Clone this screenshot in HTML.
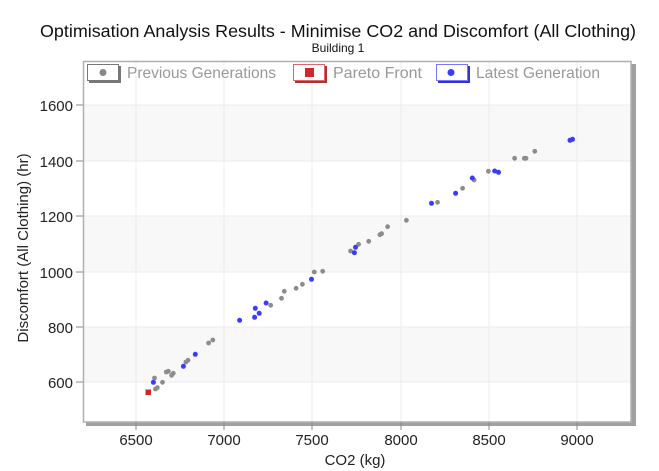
<!DOCTYPE html>
<html><head><meta charset="utf-8"><style>
html,body{margin:0;padding:0;background:#fff;}
svg{display:block;font-family:"Liberation Sans",Arial,sans-serif;}
</style></head><body>
<svg width="659" height="471" viewBox="0 0 659 471" xmlns="http://www.w3.org/2000/svg">
<rect width="659" height="471" fill="#fff"/>
<text x="338" y="37" font-size="17.5" text-anchor="middle" fill="#111" textLength="596" lengthAdjust="spacingAndGlyphs">Optimisation Analysis Results - Minimise CO2 and Discomfort (All Clothing)</text>
<text x="338" y="52" font-size="12" text-anchor="middle" fill="#111">Building 1</text>
<!-- shadow -->
<rect x="86" y="422" width="550" height="4" fill="#a0a0a0"/>
<rect x="631" y="64" width="5" height="362" fill="#a0a0a0"/>
<!-- plot bg -->
<rect x="83" y="61" width="548" height="361" fill="#fff"/>
<rect x="83" y="105" width="548" height="56" fill="#f8f8f8"/>
<rect x="83" y="216" width="548" height="56" fill="#f8f8f8"/>
<rect x="83" y="327" width="548" height="55" fill="#f8f8f8"/>
<g stroke="#ececec" stroke-width="1">
<line x1="83" y1="105" x2="631" y2="105"/><line x1="83" y1="161" x2="631" y2="161"/>
<line x1="83" y1="216" x2="631" y2="216"/><line x1="83" y1="272" x2="631" y2="272"/>
<line x1="83" y1="327" x2="631" y2="327"/><line x1="83" y1="382" x2="631" y2="382"/>
<line x1="136" y1="61" x2="136" y2="422"/><line x1="224" y1="61" x2="224" y2="422"/>
<line x1="312" y1="61" x2="312" y2="422"/><line x1="401" y1="61" x2="401" y2="422"/>
<line x1="489" y1="61" x2="489" y2="422"/><line x1="577" y1="61" x2="577" y2="422"/>
</g>
<rect x="83.5" y="61.5" width="547.5" height="360.5" fill="none" stroke="#b0b0b0" stroke-width="1.5"/>
<!-- ticks -->
<g stroke="#888" stroke-width="1">
<line x1="76" y1="105" x2="83" y2="105"/><line x1="76" y1="161" x2="83" y2="161"/>
<line x1="76" y1="216" x2="83" y2="216"/><line x1="76" y1="272" x2="83" y2="272"/>
<line x1="76" y1="327" x2="83" y2="327"/><line x1="76" y1="382" x2="83" y2="382"/>
<line x1="136" y1="422" x2="136" y2="430"/><line x1="224" y1="422" x2="224" y2="430"/>
<line x1="312" y1="422" x2="312" y2="430"/><line x1="401" y1="422" x2="401" y2="430"/>
<line x1="489" y1="422" x2="489" y2="430"/><line x1="577" y1="422" x2="577" y2="430"/>
</g>
<g font-size="15" fill="#222" text-anchor="end">
<text x="73" y="111">1600</text><text x="73" y="167">1400</text><text x="73" y="222">1200</text>
<text x="73" y="278">1000</text><text x="73" y="333">800</text><text x="73" y="388">600</text>
</g>
<g font-size="15" fill="#222" text-anchor="middle">
<text x="136" y="445">6500</text><text x="224" y="445">7000</text><text x="312" y="445">7500</text>
<text x="401" y="445">8000</text><text x="489" y="445">8500</text><text x="577" y="445">9000</text>
<text x="355" y="465">CO2 (kg)</text>
</g>
<text transform="translate(28,248) rotate(-90)" font-size="15" fill="#222" text-anchor="middle">Discomfort (All Clothing) (hr)</text>
<!-- legend -->
<rect x="89" y="66" width="32" height="17" fill="#777"/>
<rect x="87.5" y="64.5" width="31" height="16" fill="#fff" stroke="#777"/>
<circle cx="103" cy="72.5" r="3.5" fill="#888"/>
<text x="127" y="78" font-size="16" fill="#999" textLength="149" lengthAdjust="spacingAndGlyphs">Previous Generations</text>
<rect x="295" y="66" width="32" height="17" fill="#a33"/>
<rect x="293.5" y="64.5" width="31" height="16" fill="#fff" stroke="#d66"/>
<rect x="305" y="68" width="9" height="9" fill="#d02828"/>
<text x="333" y="78" font-size="16" fill="#999">Pareto Front</text>
<rect x="438" y="66" width="32" height="17" fill="#33c"/>
<rect x="436.5" y="64.5" width="31" height="16" fill="#fff" stroke="#77f"/>
<circle cx="451" cy="72.5" r="3.5" fill="#3b3bff"/>
<text x="476" y="78" font-size="16" fill="#999" textLength="124" lengthAdjust="spacingAndGlyphs">Latest Generation</text>
<!-- gray points -->
<g fill="#8c8c8c">
<circle cx="154.5" cy="378" r="2.4"/><circle cx="155.5" cy="389" r="2.4"/><circle cx="157.3" cy="387.7" r="2.4"/>
<circle cx="162.5" cy="382.3" r="2.4"/><circle cx="166.3" cy="372" r="2.4"/><circle cx="168.4" cy="371.3" r="2.4"/>
<circle cx="171.6" cy="375.3" r="2.4"/><circle cx="173.3" cy="373.3" r="2.4"/><circle cx="185.9" cy="362" r="2.4"/>
<circle cx="188" cy="360.3" r="2.4"/><circle cx="208.6" cy="343" r="2.4"/><circle cx="212.8" cy="340" r="2.4"/>
<circle cx="270.7" cy="305.3" r="2.4"/><circle cx="281.5" cy="298.3" r="2.4"/><circle cx="284.3" cy="291.3" r="2.4"/>
<circle cx="296.1" cy="288.3" r="2.4"/><circle cx="302.4" cy="284.3" r="2.4"/><circle cx="314.3" cy="272" r="2.4"/>
<circle cx="322.7" cy="271.3" r="2.4"/><circle cx="350.6" cy="251" r="2.4"/><circle cx="358.6" cy="244.3" r="2.4"/>
<circle cx="368.7" cy="241.3" r="2.4"/><circle cx="379.9" cy="234.7" r="2.4"/><circle cx="381.6" cy="233.7" r="2.4"/>
<circle cx="387.6" cy="226.7" r="2.4"/><circle cx="406.4" cy="220.3" r="2.4"/><circle cx="437.5" cy="202.3" r="2.4"/>
<circle cx="462.6" cy="188.3" r="2.4"/><circle cx="474.1" cy="180" r="2.4"/><circle cx="488.4" cy="171.3" r="2.4"/>
<circle cx="514.6" cy="158.3" r="2.4"/><circle cx="524.3" cy="158.3" r="2.4"/><circle cx="526" cy="158.3" r="2.4"/>
<circle cx="534.8" cy="151.3" r="2.4"/>
</g>
<g fill="#3b3bff">
<circle cx="153.4" cy="382.3" r="2.5"/><circle cx="183.4" cy="366.3" r="2.5"/><circle cx="195.3" cy="354.3" r="2.5"/>
<circle cx="239.6" cy="320.3" r="2.5"/><circle cx="254.6" cy="317.3" r="2.5"/><circle cx="255.3" cy="308.3" r="2.5"/>
<circle cx="259.2" cy="313.3" r="2.5"/><circle cx="266.1" cy="303" r="2.5"/><circle cx="311.5" cy="279.3" r="2.5"/>
<circle cx="355.5" cy="247.3" r="2.5"/><circle cx="354.4" cy="252.7" r="2.5"/><circle cx="431.5" cy="203.3" r="2.5"/>
<circle cx="455.6" cy="193.3" r="2.5"/><circle cx="472.3" cy="178" r="2.5"/><circle cx="494.7" cy="171" r="2.5"/>
<circle cx="498.5" cy="172.3" r="2.5"/><circle cx="570" cy="140.3" r="2.5"/><circle cx="572.5" cy="139.3" r="2.5"/>
</g>
<rect x="145.5" y="389.5" width="5.5" height="5.5" fill="#d02828"/>
</svg>
</body></html>
